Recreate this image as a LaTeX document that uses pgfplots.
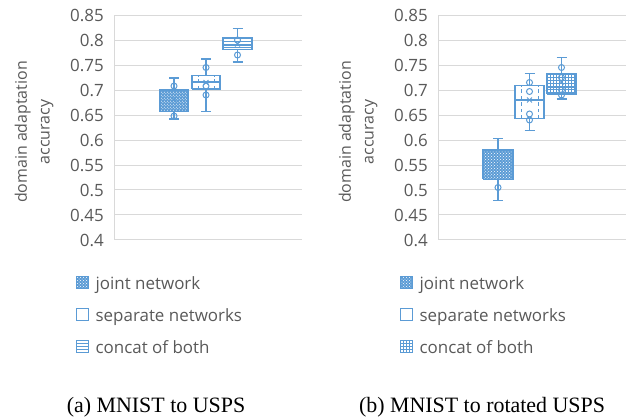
\documentclass[border=0pt]{standalone}
\usepackage{fontspec}
\setmainfont{Liberation Serif}
\newfontfamily\chartfont{Open Sans}
\usepackage{pgfplots}
\pgfplotsset{compat=1.18}
\usetikzlibrary{patterns}

\definecolor{xlblue}{HTML}{5B9BD5}
\definecolor{xlgray}{HTML}{595959}
\definecolor{xlgrid}{HTML}{D9D9D9}

\pgfplotsset{
  xlaxis/.style={
    scale only axis, width=188bp, height=225bp,
    xmin=0, xmax=188, ymin=0.4, ymax=0.85,
    ytick={0.4,0.45,0.5,0.55,0.6,0.65,0.7,0.75,0.8,0.85},
    xtick=\empty,
    ymajorgrids, grid style={xlgrid, line width=1bp},
    axis lines*=left, axis line style={-, xlgrid, line width=1bp},
    major tick length=0pt,
    unbounded coords=jump,
    /pgf/number format/assume math mode=true,
    yticklabel={\pgfmathprintnumber[fixed,precision=2]{\tick}},
    yticklabel style={font=\chartfont\fontsize{17}{17}\selectfont, text=xlgray, inner sep=0pt, xshift=-10bp},
    ylabel={domain adaptation\\accuracy},
    every axis y label/.style={at={(axis description cs:-0.425,0.48)}, rotate=90, anchor=center,
      align=center, font=\chartfont\fontsize{16}{23}\selectfont, text=xlgray},
    legend style={at={(axis description cs:-0.205,-0.152)}, anchor=north west,
      draw=none, fill=none, inner sep=0pt, row sep=13.5bp,
      font=\chartfont\fontsize{17}{17}\selectfont, text=xlgray,
      /tikz/every odd column/.append style={column sep=5bp}},
    legend cell align=left,
  },
  xlleg/.style={legend image code/.code={\draw[##1] (0bp,-5bp) rectangle (12bp,7bp);}},
  xlln/.style={xlblue, line width=1.3bp, solid, mark=none, forget plot},
  xldash/.style={xlblue, line width=0.9bp, dash pattern=on 3.5bp off 3bp, mark=none, forget plot},
  xlpts/.style={only marks, mark=o, mark size=3bp, xlblue, line width=1bp, forget plot},
  xlmean/.style={only marks, mark=x, mark size=3.5bp, xlblue, line width=1bp, forget plot},
  xljoint/.style={xlln, fill=xlblue, postaction={pattern=crosshatch dots, pattern color=white}},
}

\begin{document}
\begin{tikzpicture}
\path[use as bounding box] (0bp,0bp) rectangle (636bp,418bp);

% (a) MNIST to USPS
\begin{axis}[xlaxis, at={(114bp,178bp)}, anchor=south west]
\addlegendimage{xlleg, draw=xlblue, line width=1bp, fill=xlblue, postaction={pattern=crosshatch dots, pattern color=white}}
\addlegendimage{xlleg, draw=xlblue, line width=1bp, fill=white}
\addlegendimage{xlleg, draw=xlblue, line width=1bp, fill=white, postaction={pattern=horizontal lines, pattern color=xlblue}}
\legend{joint network, separate networks, concat of both}

% joint network
\addplot[xljoint] coordinates {(46,0.657) (74,0.657) (74,0.700) (46,0.700) (46,0.657)};
\addplot[xlln] coordinates {(60,0.700) (60,0.724) (55,nan) (55,0.724) (65,0.724) (65,nan)
  (60,0.657) (60,0.642) (55,nan) (55,0.642) (65,0.642)};
% separate networks
\addplot[xlln, fill=white] coordinates {(78,0.702) (106,0.702) (106,0.729) (78,0.729) (78,0.702)};
\addplot[xldash] coordinates {(84,0.702) (84,0.729) (100,nan) (100,0.702) (100,0.729)};
\addplot[xlln] coordinates {(78,0.716) (106,0.716) (92,nan) (92,0.729) (92,0.762) (87,nan) (87,0.762) (97,0.762) (97,nan)
  (92,0.702) (92,0.657) (87,nan) (87,0.657) (97,0.657)};
% concat of both
\addplot[xlln, fill=white, postaction={pattern=horizontal lines, pattern color=xlblue}] coordinates {(109,0.781) (138,0.781) (138,0.805) (109,0.805) (109,0.781)};
\addplot[xlln] coordinates {(109,0.790) (138,0.790) (123.5,nan) (123.5,0.805) (123.5,0.823) (118.5,nan) (118.5,0.823) (128.5,0.823) (128.5,nan)
  (123.5,0.781) (123.5,0.756) (118.5,nan) (118.5,0.756) (128.5,0.756)};

\addplot[xlpts] coordinates {(60,0.708) (60,0.648) (92,0.745) (92,0.690) (92,0.708) (123.5,0.800) (123.5,0.770)};
\addplot[xlmean] coordinates {(60,0.681) (92,0.715) (123.5,0.792)};
\end{axis}

% (b) MNIST to rotated USPS
\begin{axis}[xlaxis, at={(438bp,178bp)}, anchor=south west]
\addlegendimage{xlleg, draw=xlblue, line width=1bp, fill=xlblue, postaction={pattern=crosshatch dots, pattern color=white}}
\addlegendimage{xlleg, draw=xlblue, line width=1bp, fill=white}
\addlegendimage{xlleg, draw=xlblue, line width=1bp, fill=white, postaction={pattern=grid, pattern color=xlblue}}
\legend{joint network, separate networks, concat of both}

% joint network
\addplot[xljoint] coordinates {(45,0.521) (75,0.521) (75,0.580) (45,0.580) (45,0.521)};
\addplot[xlln] coordinates {(60,0.580) (60,0.603) (55,nan) (55,0.603) (65,0.603) (65,nan)
  (60,0.521) (60,0.479) (55,nan) (55,0.479) (65,0.479)};
% separate networks
\addplot[xlln, fill=white] coordinates {(77,0.643) (106,0.643) (106,0.709) (77,0.709) (77,0.643)};
\addplot[xldash] coordinates {(83,0.643) (83,0.709) (100,nan) (100,0.643) (100,0.709)};
\addplot[xlln] coordinates {(77,0.680) (106,0.680) (91.5,nan) (91.5,0.709) (91.5,0.733) (86.5,nan) (86.5,0.733) (96.5,0.733) (96.5,nan)
  (91.5,0.643) (91.5,0.619) (86.5,nan) (86.5,0.619) (96.5,0.619)};
% concat of both
\addplot[xlln, fill=white, postaction={pattern=grid, pattern color=xlblue}] coordinates {(109,0.692) (138,0.692) (138,0.733) (109,0.733) (109,0.692)};
\addplot[xlln] coordinates {(109,0.705) (138,0.705) (123.5,nan) (123.5,0.733) (123.5,0.765) (118.5,nan) (118.5,0.765) (128.5,0.765) (128.5,nan)
  (123.5,0.692) (123.5,0.682) (118.5,nan) (118.5,0.682) (128.5,0.682)};

\addplot[xlpts] coordinates {(60,0.505) (91.5,0.715) (91.5,0.697) (91.5,0.652) (91.5,0.640)
  (123.5,0.745) (123.5,0.725) (123.5,0.700) (123.5,0.690)};
\addplot[xlmean] coordinates {(60,0.552) (91.5,0.680) (123.5,0.716)};
\end{axis}

\node[font=\fontsize{22}{24}\selectfont, anchor=base] at (156bp,6bp) {(a) MNIST to USPS};
\node[font=\fontsize{22}{24}\selectfont, anchor=base] at (482bp,6bp) {(b) MNIST to rotated USPS};
\end{tikzpicture}
\end{document}
